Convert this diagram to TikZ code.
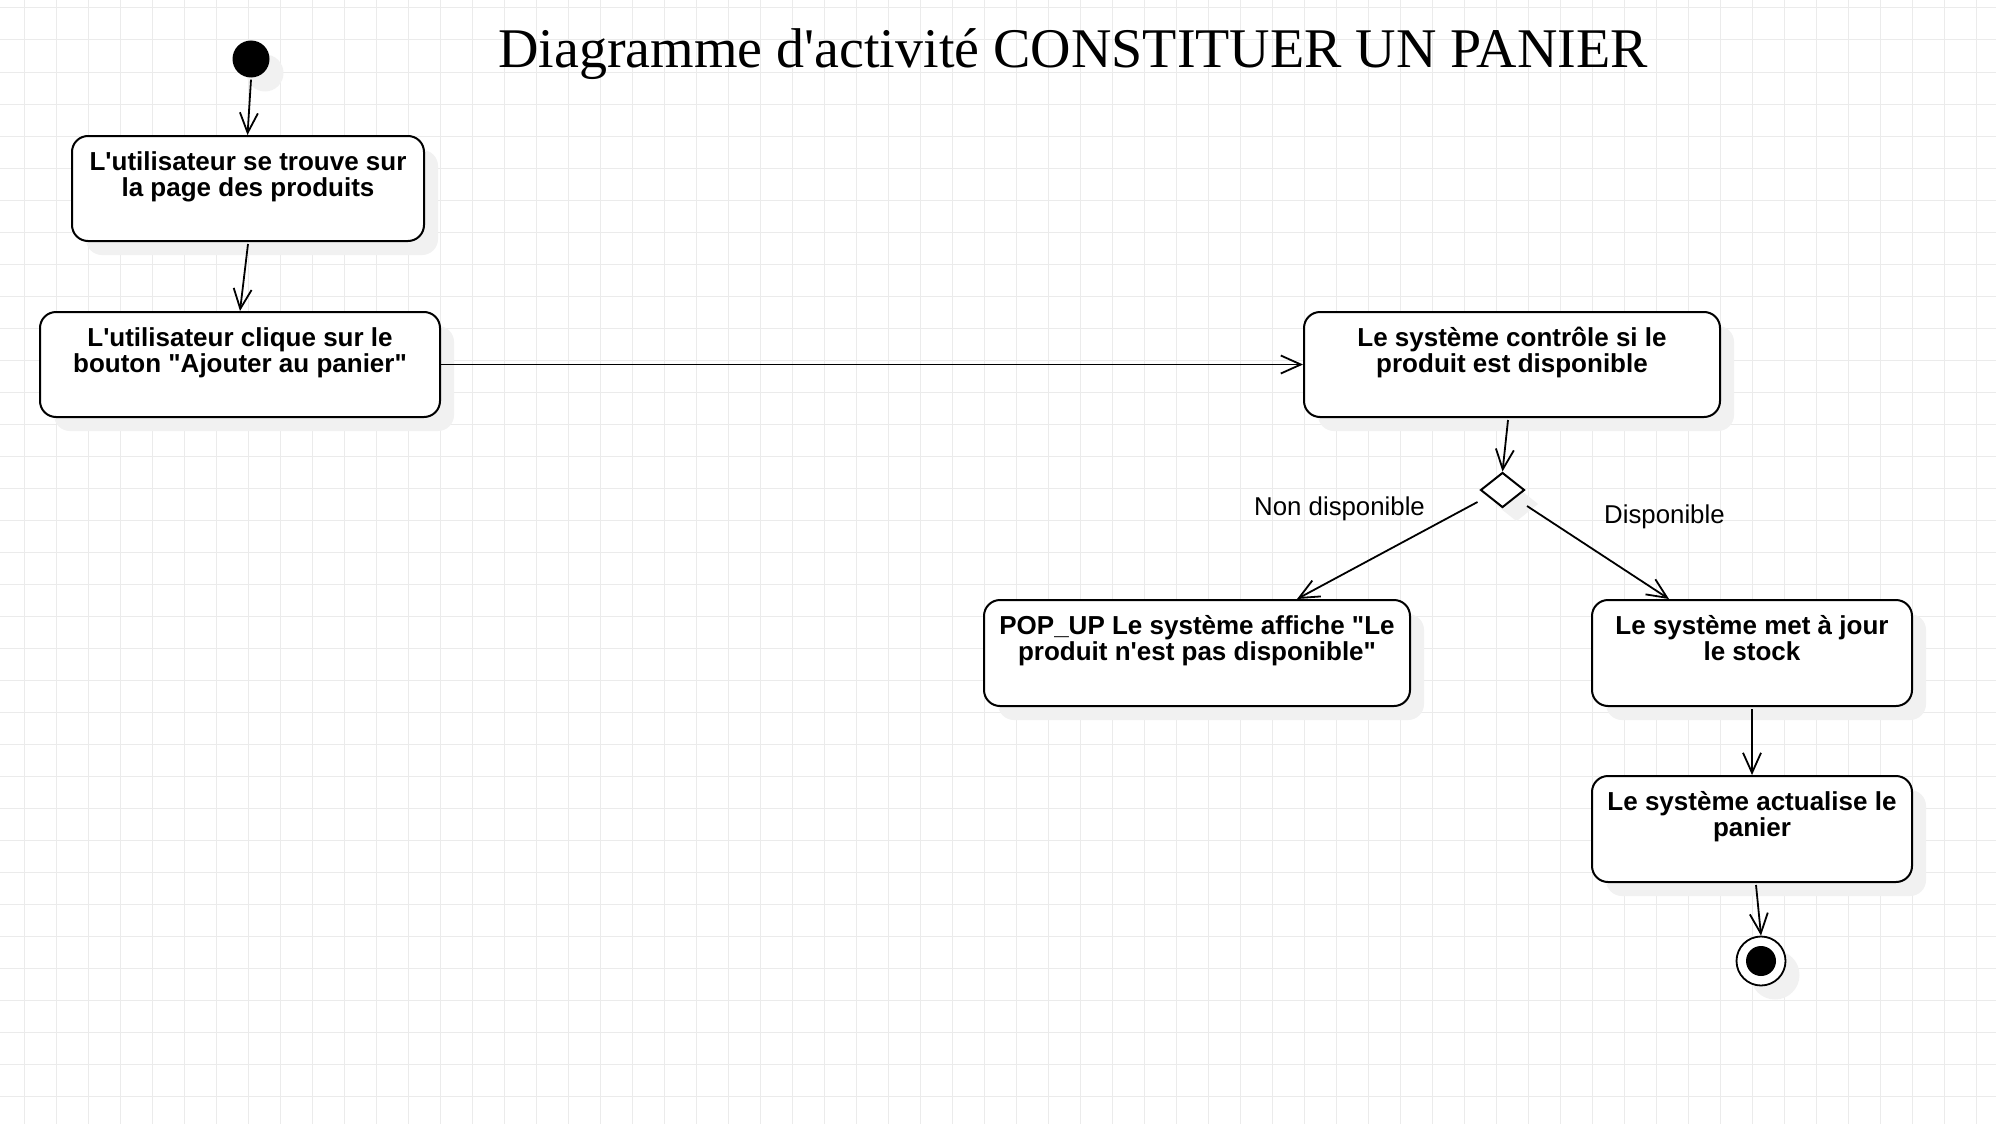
\documentclass[tikz,border=0pt]{standalone}
\usepackage{fontspec}
\newfontfamily\lserif{Liberation Serif}
\newfontfamily\lsans{Liberation Sans}
\usetikzlibrary{arrows.meta,shapes.geometric,shadows}
\definecolor{gridc}{RGB}{235,235,235}
\definecolor{shadowc}{RGB}{241,241,241}
\tikzset{
  gridline/.style={draw=gridc, line width=1pt},
  act/.style={draw, line width=2pt, rounded corners=16pt, fill=white, inner sep=0pt,
    drop shadow={shadow xshift=14pt, shadow yshift=-14pt, fill=shadowc, opacity=1}},
  acttext/.style={font=\lsans\bfseries\fontsize{26}{26}\selectfont, align=center, anchor=north, inner sep=0pt},
  flow/.style={line width=1.8pt, -{Straight Barb[length=20pt,width=18pt]}},
  guard/.style={font=\lsans\fontsize{25.8}{26}\selectfont, anchor=base west, inner sep=0pt},
}
\begin{document}
\begin{tikzpicture}[x=1pt,y=-1pt]
\fill[white] (0,0) rectangle (1996,1124);
\useasboundingbox (0,0) rectangle (1996,1124);
\foreach \i in {0,...,61} \draw[gridline] (24+32*\i,0) -- (24+32*\i,1124);
\foreach \j in {0,...,35} \draw[gridline] (0,8+32*\j) -- (1996,8+32*\j);

\node[font=\lserif\fontsize{56}{60}\selectfont, anchor=base, inner sep=0pt] (title) at (1073,67) {Diagramme d'activité CONSTITUER UN PANIER};

% initial node
\node[circle, fill=black, minimum size=37pt, inner sep=0pt,
  drop shadow={shadow xshift=14pt, shadow yshift=-14pt, fill=shadowc, opacity=1}] (start) at (251,59) {};

% activities
\node[act, minimum width=352pt, minimum height=105pt] (b1) at (248,188.5) {};
\node[acttext] (b1t) at ([yshift=-16pt]b1.north) {L'utilisateur se trouve sur\\la page des produits};

\node[act, minimum width=400pt, minimum height=105pt] (b2) at (240,364.5) {};
\node[acttext] (b2t) at ([yshift=-16pt]b2.north) {L'utilisateur clique sur le\\bouton "Ajouter au panier"};

\node[act, minimum width=416pt, minimum height=105pt] (b3) at (1512,364.5) {};
\node[acttext] (b3t) at ([yshift=-16pt]b3.north) {Le système contrôle si le\\produit est disponible};

\node[diamond, draw, line width=2pt, fill=white, minimum width=44pt, minimum height=35pt, inner sep=0pt,
  drop shadow={shadow xshift=14pt, shadow yshift=-14pt, fill=shadowc, opacity=1}] (dec) at (1502.5,490) {};

\node[act, minimum width=426pt, minimum height=106pt] (b4) at (1197,653) {};
\node[acttext] (b4t) at ([yshift=-16pt]b4.north) {POP\_UP Le système affiche "Le\\produit n'est pas disponible"};

\node[act, minimum width=320pt, minimum height=106pt] (b5) at (1752,653) {};
\node[acttext] (b5t) at ([yshift=-16pt]b5.north) {Le système met à jour\\le stock};

\node[act, minimum width=320pt, minimum height=106pt] (b6) at (1752,829) {};
\node[acttext] (b6t) at ([yshift=-16pt]b6.north) {Le système actualise le\\panier};

% final node
\node[circle, draw, line width=1.8pt, fill=white, minimum size=49pt, inner sep=0pt,
  drop shadow={shadow xshift=14pt, shadow yshift=-14pt, fill=shadowc, opacity=1}] (end) at (1761,961) {};
\fill (end.center) circle (15pt);

% guards
\node[guard] (lnon) at (1254,515) {Non disponible};
\node[guard] (ldis) at (1604,523) {Disponible};

% flows
\draw[flow] ([yshift=-2pt]start.south) -- ([xshift=-0.5pt]b1.north);
\draw[flow] ([yshift=-2pt]b1.south) -- (b2.north);
\draw[flow] (b2.east) -- (b3.west);
\draw[flow] ([shift={(-4pt,-2pt)}]b3.south) -- (dec.north);
\draw[flow] ([shift={(-2pt,-12pt)}]dec.west) -- ([xshift=100pt]b4.north);
\draw[flow] ([shift={(1.5pt,-16pt)}]dec.east) -- ([xshift=-83pt]b5.north);
\draw[flow] ([yshift=-2pt]b5.south) -- (b6.north);
\draw[flow] ([shift={(4pt,-2pt)}]b6.south) -- (end.north);
\end{tikzpicture}
\end{document}
